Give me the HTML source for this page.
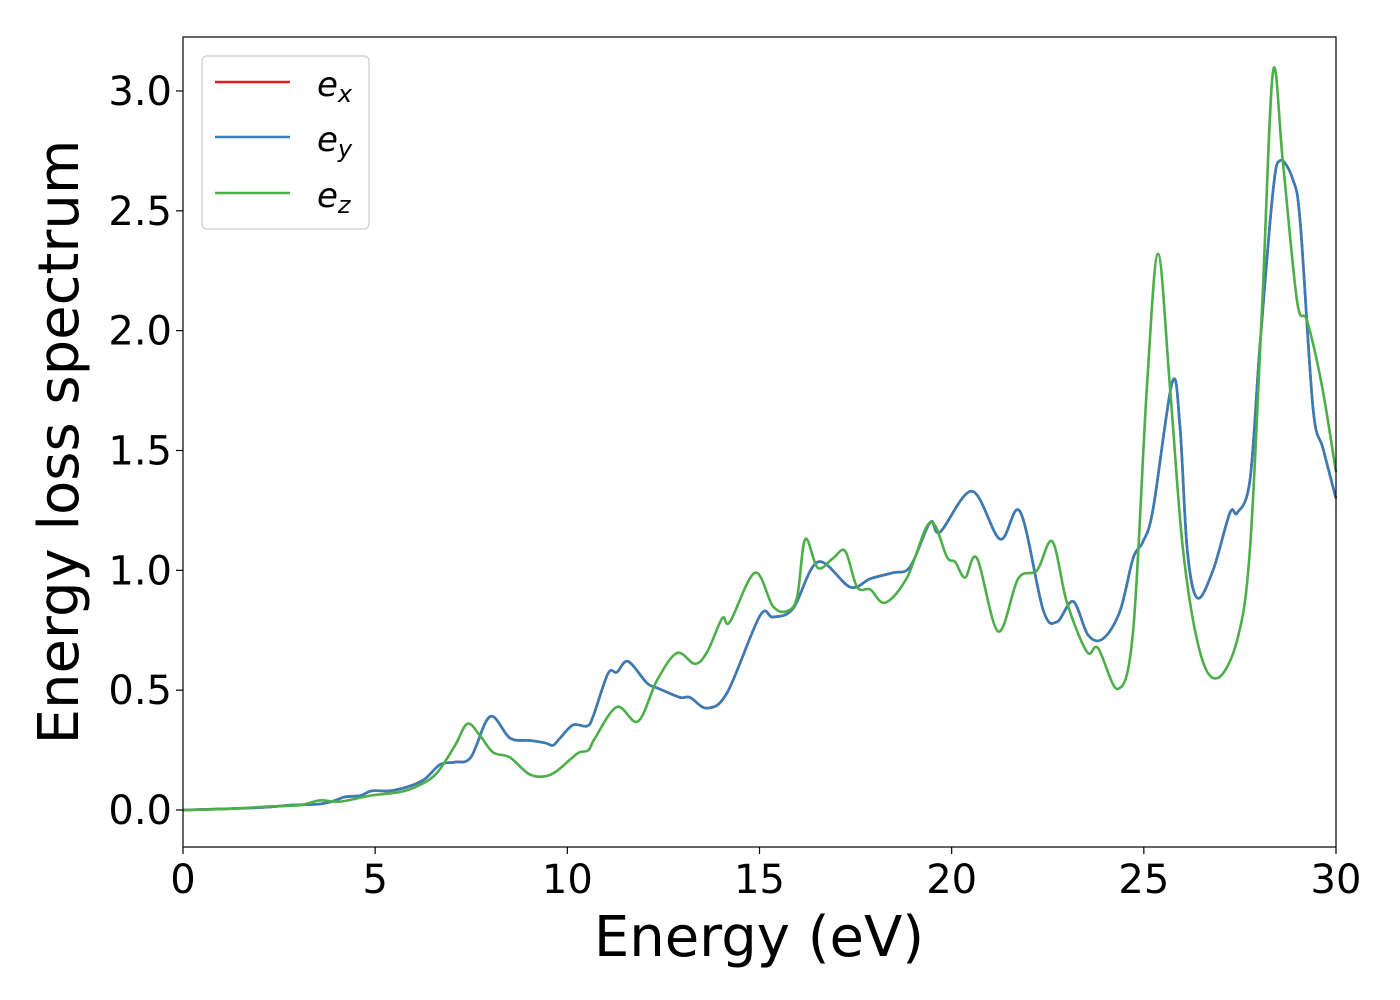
<!DOCTYPE html>
<html><head><meta charset="utf-8"><style>
html,body{margin:0;padding:0;background:#fff;}
svg{display:block;font-family:"DejaVu Sans","Liberation Sans",sans-serif;}
</style></head><body>
<svg id="chart" width="1400" height="1000" viewBox="0 0 1400 1000" xmlns="http://www.w3.org/2000/svg">
<rect x="0" y="0" width="1400" height="1000" fill="#fff"/>
<g id="ticks"></g>
<g id="series"></g>
<rect x="183" y="37" width="1153" height="810" fill="none" stroke="#000" stroke-width="1.2"/>
<text x="759" y="956" font-size="56" text-anchor="middle">Energy (eV)</text>
<text transform="translate(78,442) rotate(-90)" font-size="56" text-anchor="middle">Energy loss spectrum</text>
<g>
<rect x="202" y="56" width="167" height="173" rx="5" fill="#fff" fill-opacity="0.8" stroke="#ccc" stroke-width="1.2"/>
<line x1="215" y1="82" x2="290" y2="82" stroke="#e41a1c" stroke-width="2.5"/>
<text x="317" y="96" font-size="34" font-style="italic">e<tspan font-size="24" dy="6">x</tspan></text>
<line x1="215" y1="137" x2="290" y2="137" stroke="#377eb8" stroke-width="2.5"/>
<text x="317" y="151" font-size="34" font-style="italic">e<tspan font-size="24" dy="6">y</tspan></text>
<line x1="215" y1="193" x2="290" y2="193" stroke="#4daf4a" stroke-width="2.5"/>
<text x="317" y="207" font-size="34" font-style="italic">e<tspan font-size="24" dy="6">z</tspan></text>
</g>
</svg>
<script>
const xTicks = [0, 5, 10, 15, 20, 25, 30];
const yTicks = [0.0, 0.5, 1.0, 1.5, 2.0, 2.5, 3.0];
const yTickLabels = ["0.0", "0.5", "1.0", "1.5", "2.0", "2.5", "3.0"];
const exX = [0,2.0,2.78,3.56,3.96,4.22,4.61,4.92,5.39,5.91,6.30,6.69,7.08,7.49,7.99,8.51,9.03,9.42,9.63,9.81,10.15,10.51,10.67,11.06,11.29,11.58,12.07,12.33,12.93,13.19,13.64,14.16,15.01,15.35,15.87,16.52,17.36,17.88,18.47,18.92,19.44,19.70,20.53,21.26,21.78,22.38,22.74,23.16,23.55,23.94,24.38,24.72,24.98,25.24,25.74,25.94,26.13,26.39,26.80,27.24,27.43,27.76,28.02,28.36,28.55,28.88,29.07,29.40,29.66,30];
const exY = [0,0.01,0.02,0.025,0.04,0.055,0.06,0.08,0.08,0.10,0.13,0.19,0.20,0.22,0.39,0.30,0.29,0.28,0.27,0.30,0.355,0.35,0.39,0.57,0.575,0.62,0.53,0.51,0.47,0.47,0.425,0.49,0.81,0.805,0.84,1.035,0.93,0.965,0.99,1.015,1.20,1.16,1.33,1.13,1.245,0.835,0.785,0.87,0.73,0.715,0.83,1.05,1.12,1.255,1.785,1.60,1.085,0.885,1.00,1.24,1.24,1.375,1.935,2.58,2.71,2.63,2.45,1.68,1.51,1.30];
const eyX = exX.slice();
const eyY = exY.slice();
const ezX = [0,1.22,2.26,3.04,3.56,4.09,4.87,5.65,6.17,6.61,7.08,7.4,7.73,8.07,8.5,9.0,9.4,9.7,10.07,10.3,10.55,10.72,11.29,11.84,12.33,12.85,13.32,13.64,14.03,14.23,14.88,15.35,15.72,15.98,16.19,16.52,16.91,17.23,17.54,17.88,18.27,18.84,19.44,19.88,20.09,20.35,20.66,21.21,21.73,22.22,22.62,23.0,23.52,23.81,24.33,24.72,25.08,25.37,25.68,26.02,26.46,26.91,27.43,27.76,28.08,28.36,28.62,28.99,29.25,29.64,30];
const ezY = [0,0.005,0.015,0.02,0.04,0.035,0.06,0.075,0.105,0.155,0.27,0.36,0.31,0.24,0.22,0.15,0.14,0.16,0.21,0.24,0.25,0.30,0.43,0.37,0.54,0.655,0.61,0.66,0.80,0.785,0.99,0.85,0.83,0.89,1.13,1.01,1.05,1.08,0.93,0.92,0.865,0.97,1.20,1.055,1.035,0.97,1.05,0.745,0.965,1.0,1.12,0.865,0.66,0.675,0.505,0.745,1.765,2.32,1.765,1.085,0.66,0.55,0.71,1.085,2.11,3.08,2.70,2.12,2.04,1.765,1.41];

const NS = "http://www.w3.org/2000/svg";
const X0 = 183, X1 = 1336, XMIN = 0, XMAX = 30;
const Y0 = 810, YPER = 239.67;
function sx(v){ return X0 + (v - XMIN) / (XMAX - XMIN) * (X1 - X0); }
function sy(v){ return Y0 - v * YPER; }

const tg = document.getElementById('ticks');
xTicks.forEach(function(t){
  const l = document.createElementNS(NS,'line');
  
  
  l.setAttribute('x1',sx(t)); l.setAttribute('x2',sx(t));
  l.setAttribute('y1',847); l.setAttribute('y2',854);
  l.setAttribute('stroke','#000'); l.setAttribute('stroke-width','1.2');
  tg.appendChild(l);
  const tx = document.createElementNS(NS,'text');
  
  
  tx.setAttribute('x',sx(t)); tx.setAttribute('y',893);
  tx.setAttribute('font-size','40'); tx.setAttribute('text-anchor','middle');
  tx.textContent = String(t);
  tg.appendChild(tx);
});
yTicks.forEach(function(t,i){
  const l = document.createElementNS(NS,'line');
  
  
  l.setAttribute('x1',176); l.setAttribute('x2',183);
  l.setAttribute('y1',sy(t)); l.setAttribute('y2',sy(t));
  l.setAttribute('stroke','#000'); l.setAttribute('stroke-width','1.2');
  tg.appendChild(l);
  const tx = document.createElementNS(NS,'text');
  
  
  tx.setAttribute('x',172); tx.setAttribute('y',sy(t)+14);
  tx.setAttribute('font-size','40'); tx.setAttribute('text-anchor','end');
  tx.textContent = yTickLabels[i];
  tg.appendChild(tx);
});

function smoothPath(xs, ys){
  const p = xs.map(function(x,i){ return [sx(x), sy(ys[i])]; });
  let d = 'M' + p[0][0].toFixed(2) + ',' + p[0][1].toFixed(2);
  for (let i = 0; i < p.length - 1; i++){
    const a = p[Math.max(i-1,0)], b = p[i], c = p[i+1], e = p[Math.min(i+2,p.length-1)];
    const c1 = [b[0] + (c[0]-a[0])/6, b[1] + (c[1]-a[1])/6];
    const c2 = [c[0] - (e[0]-b[0])/6, c[1] - (e[1]-b[1])/6];
    d += ' C' + c1[0].toFixed(2)+','+c1[1].toFixed(2)+' '+c2[0].toFixed(2)+','+c2[1].toFixed(2)+' '+c[0].toFixed(2)+','+c[1].toFixed(2);
  }
  return d;
}
const sg = document.getElementById('series');
function addLine(xs, ys, color, name){
  const path = document.createElementNS(NS,'path');
  
  
  path.setAttribute('d', smoothPath(xs, ys));
  path.setAttribute('fill','none');
  path.setAttribute('stroke', color);
  path.setAttribute('stroke-width','2.6');
  path.setAttribute('stroke-linejoin','round');
  sg.appendChild(path);
}
addLine(exX, exY, '#e41a1c', 'series-ex-line');
addLine(eyX, eyY, '#377eb8', 'series-ey-line');
addLine(ezX, ezY, '#4daf4a', 'series-ez-line');
</script>
</body></html>
